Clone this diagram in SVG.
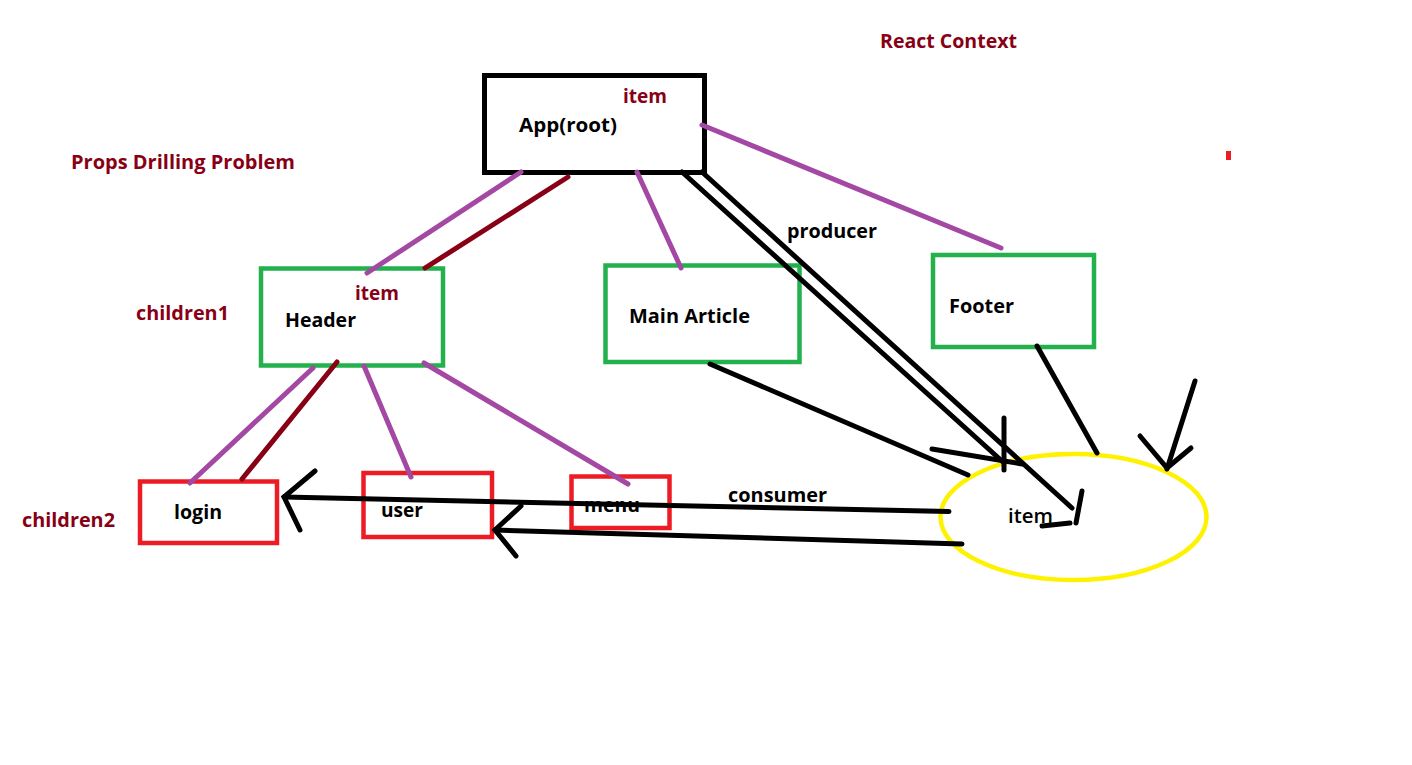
<svg xmlns="http://www.w3.org/2000/svg" width="1412" height="765" viewBox="0 0 1412 765">
<style>
text{font-family:"Open Sans","Noto Sans","Liberation Sans",sans-serif;font-size:19.5px;font-weight:700;fill:#000}
.m{fill:#880015}
.box{fill:none;stroke-width:4.5}
.g{stroke:#22B14C}
.r{stroke:#ED1C24}
.k{stroke:#000;stroke-width:5}
.p{stroke:#A349A4;stroke-width:5;stroke-linecap:round;fill:none}
.d{stroke:#880015;stroke-width:5;stroke-linecap:round;fill:none}
.b{stroke:#000;stroke-width:5;stroke-linecap:round;fill:none}
</style>
<rect width="1412" height="765" fill="#fff"/>
<g id="labels">
<text class="m" x="880" y="48" textLength="137" lengthAdjust="spacingAndGlyphs">React Context</text>
<text class="m" x="71" y="169" textLength="224" lengthAdjust="spacingAndGlyphs">Props Drilling Problem</text>
<text class="m" x="136" y="320" textLength="93" lengthAdjust="spacingAndGlyphs">children1</text>
<text class="m" x="22" y="527" textLength="93" lengthAdjust="spacingAndGlyphs">children2</text>
<text x="787" y="238" textLength="90" lengthAdjust="spacingAndGlyphs">producer</text>
<text x="728" y="502" textLength="99" lengthAdjust="spacingAndGlyphs">consumer</text>
<rect x="1226" y="151" width="5" height="9" fill="#ED1C24"/>
</g>
<g id="app">
<rect class="box k" x="484.5" y="75.5" width="220" height="97"/>
<text class="m" x="623" y="103" textLength="44" lengthAdjust="spacingAndGlyphs">item</text>
<text x="519" y="132" textLength="98" lengthAdjust="spacingAndGlyphs">App(root)</text>
</g>
<g id="header">
<rect class="box g" x="261" y="268.5" width="182" height="97"/>
<text class="m" x="355" y="300" textLength="44" lengthAdjust="spacingAndGlyphs">item</text>
<text x="285" y="327" textLength="71" lengthAdjust="spacingAndGlyphs">Header</text>
</g>
<g id="main-article">
<rect class="box g" x="605.5" y="265.5" width="194" height="96.5"/>
<text x="629" y="323" textLength="121" lengthAdjust="spacingAndGlyphs">Main Article</text>
</g>
<g id="footer">
<rect class="box g" x="933" y="255" width="161" height="92"/>
<text x="949" y="313" textLength="65" lengthAdjust="spacingAndGlyphs">Footer</text>
</g>
<g id="login">
<rect class="box r" x="140" y="481.5" width="137" height="61.5"/>
<text x="174" y="519" textLength="48" lengthAdjust="spacingAndGlyphs">login</text>
</g>
<g id="user">
<rect class="box r" x="363.5" y="473" width="128.5" height="64"/>
<text x="381" y="517" textLength="42" lengthAdjust="spacingAndGlyphs">user</text>
</g>
<g id="menu">
<rect class="box r" x="571.5" y="476.5" width="98" height="51.5"/>
<text x="584" y="512" textLength="56" lengthAdjust="spacingAndGlyphs">menu</text>
</g>
<g id="item-context">
<ellipse cx="1073.5" cy="517" rx="133" ry="63" fill="none" stroke="#FFF200" stroke-width="4.5"/>
<text x="1008" y="523" textLength="45" lengthAdjust="spacingAndGlyphs" style="font-weight:600">item</text>
</g>
<g id="connectors">
<line class="p" x1="521" y1="172" x2="367" y2="273"/>
<line class="p" x1="637" y1="172" x2="681" y2="268"/>
<line class="p" x1="702" y1="125" x2="1001" y2="248"/>
<line class="p" x1="313" y1="368" x2="190" y2="483"/>
<line class="p" x1="364" y1="366" x2="411" y2="477"/>
<line class="p" x1="424" y1="363" x2="628" y2="484"/>
<line class="d" x1="568" y1="177" x2="425" y2="268"/>
<line class="d" x1="337" y1="362" x2="242" y2="479"/>
<line class="b" x1="682" y1="172" x2="1003" y2="462"/>
<line class="b" x1="1004" y1="418" x2="1004" y2="470"/>
<line class="b" x1="932" y1="449" x2="1022" y2="464"/>
<line class="b" x1="702" y1="172" x2="1072" y2="508"/>
<line class="b" x1="1082" y1="491" x2="1076" y2="523"/>
<line class="b" x1="1042" y1="526" x2="1070" y2="523"/>
<line class="b" x1="710" y1="364" x2="968" y2="475"/>
<line class="b" x1="1037" y1="346" x2="1097" y2="453"/>
<line class="b" x1="1195" y1="381" x2="1167" y2="469"/>
<polyline class="b" points="1140,436 1167,468 1191,448"/>
<line class="b" x1="284" y1="497" x2="949" y2="511.5"/>
<polyline class="b" points="315,471 284,497 300,530"/>
<line class="b" x1="495" y1="530" x2="962" y2="544"/>
<polyline class="b" points="521,506 495,530 516,556"/>
</g>
</svg>
